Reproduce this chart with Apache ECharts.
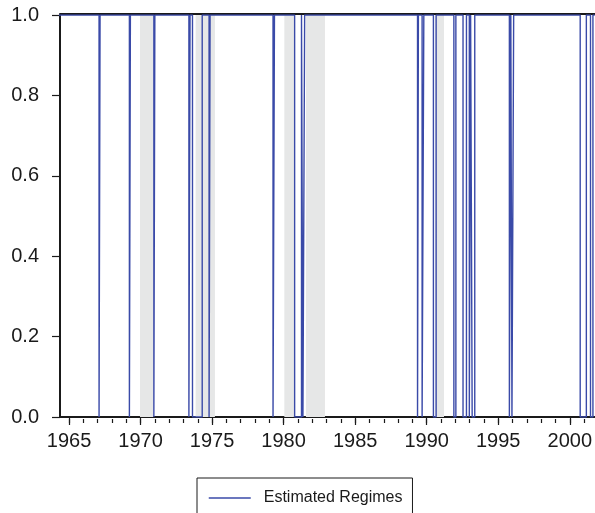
<!DOCTYPE html>
<html>
<head>
<meta charset="utf-8">
<script src="https://cdn.jsdelivr.net/npm/echarts@6/dist/echarts.min.js"></script>
<style>
html,body{margin:0;padding:0;background:#fff;}
#chart{width:595px;height:513px;}
</style>
</head>
<body>
<div id="chart"></div>
<script>
// ---- data ----
const seriesName = 'Estimated Regimes';
const startYear = 1964.25;
const endYear = 2001.75;
// intervals (years) where the estimated regime is 0
const regimeDips = [
  [1967.10, 1967.17], [1969.22, 1969.29], [1970.93, 1971.00],
  [1973.38, 1973.46], [1973.63, 1974.31], [1974.79, 1974.86],
  [1979.26, 1979.36], [1980.77, 1981.25], [1981.35, 1981.47],
  [1989.36, 1989.42], [1989.68, 1989.80], [1990.47, 1990.66],
  [1991.90, 1992.04], [1992.54, 1992.78], [1992.98, 1993.07],
  [1993.18, 1993.36], [1995.78, 1995.88], [1995.96, 1996.08],
  [2000.73, 2001.16], [2001.45, 2001.62]
];
// shaded recession periods (years)
const recessions = [
  [1969.96, 1970.89], [1973.85, 1975.20], [1980.05, 1980.72],
  [1981.56, 1982.89], [1990.60, 1991.21]
];
const majorTicks = [1965, 1970, 1975, 1980, 1985, 1990, 1995, 2000];
const minorTicks = [1965,1966,1967,1968,1969,1970,1971,1972,1973,1974,1975,1976,1977,1978,1979,1980,1981,1982,1983,1984,1985,1986,1987,1988,1989,1990,1991,1992,1993,1994,1995,1996,1997,1998,1999,2000,2001];

// ---- build step data ----
const lineData = [[startYear, 1]];
regimeDips.forEach(([a, b]) => {
  lineData.push([a, 1], [a, 0], [b, 0], [b, 1]);
});
lineData.push([endYear, 1]);

const xMin = 1964.37, xMax = 2001.76;
const font = "'Liberation Sans', Arial, Helvetica, sans-serif";
const ink = '#1a1a1a';
const blue = '#3a4aa8';

const chart = echarts.init(document.getElementById('chart'), null, {renderer: 'canvas'});
chart.setOption({
  animation: false,
  backgroundColor: '#fff',
  grid: {left: 60, right: 0, top: 15, bottom: 96, containLabel: false},
  legend: {
    data: [{name: seriesName, itemStyle: {opacity: 0}}],
    left: 197, top: 478,
    borderColor: ink, borderWidth: 1,
    padding: [12, 10, 20, 11],
    itemWidth: 42, itemHeight: 14,
    lineStyle: {color: blue, width: 1.5},
    textStyle: {fontFamily: font, fontSize: 16, color: ink, padding: [0, 0, 0, 8]}
  },
  xAxis: [
    {
      type: 'value', min: xMin, max: xMax, position: 'bottom', offset: 2,
      axisLine: {show: true, lineStyle: {color: ink, width: 2}},
      axisTick: {show: true, length: 8, customValues: majorTicks, lineStyle: {color: ink, width: 1.2}},
      axisLabel: {show: true, customValues: majorTicks, margin: 12, fontFamily: font, fontSize: 20, color: ink,
        formatter: v => String(Math.round(v))},
      splitLine: {show: false}
    },
    {
      type: 'value', min: xMin, max: xMax, position: 'bottom', offset: 2,
      axisLine: {show: false},
      axisTick: {show: true, length: 4, customValues: minorTicks, lineStyle: {color: ink, width: 1.2}},
      axisLabel: {show: false},
      splitLine: {show: false}
    },
    {
      type: 'value', min: xMin, max: xMax, position: 'top', offset: 1,
      axisLine: {show: true, lineStyle: {color: ink, width: 2}},
      axisTick: {show: false}, axisLabel: {show: false}, splitLine: {show: false}
    }
  ],
  yAxis: {
    type: 'value', min: 0, max: 1, interval: 0.2,
    axisLine: {show: true, lineStyle: {color: ink, width: 2}},
    axisTick: {show: true, length: 8, lineStyle: {color: ink, width: 1.2}},
    axisLabel: {margin: 21, fontFamily: font, fontSize: 20, color: ink, formatter: v => v.toFixed(1)},
    splitLine: {show: false}
  },
  series: [
    {
      name: 'recessions', type: 'line', data: [], z: 1, silent: true,
      markArea: {
        silent: true,
        itemStyle: {color: '#e6e7e7'},
        data: recessions.map(([a, b]) => [{xAxis: a}, {xAxis: b}])
      }
    },
    {
      name: seriesName, type: 'line', data: lineData, z: 3,
      symbol: 'none', showSymbol: false, clip: true,
      lineStyle: {color: blue, width: 1.4},
      itemStyle: {color: blue}
    }
  ]
});
</script>
</body>
</html>
